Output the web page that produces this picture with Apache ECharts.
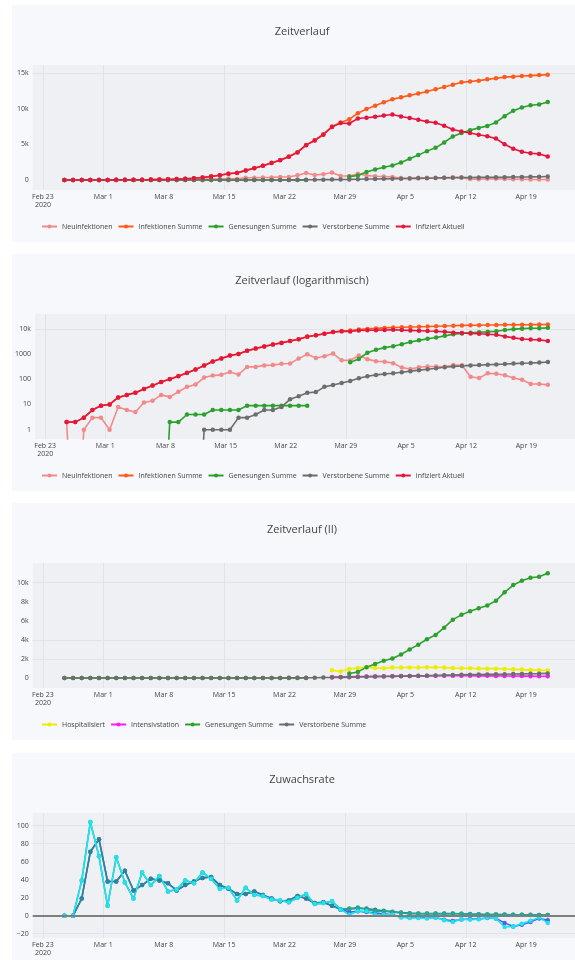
<!DOCTYPE html>
<html><head><meta charset="utf-8">
<script src="https://cdn.jsdelivr.net/npm/echarts@6/dist/echarts.min.js"></script>
<style>
html,body{margin:0;padding:0;background:#fff;width:575px;height:960px;overflow:hidden;position:relative;}
.panel{position:absolute;left:12px;width:620px;height:237px;background:#f7f8fb;}
</style></head><body>
<div id="p1" class="panel" style="top:5px"></div>
<div id="p2" class="panel" style="top:254px"></div>
<div id="p3" class="panel" style="top:503px"></div>
<div id="p4" class="panel" style="top:753px"></div>
<script>
// ---- data ----
const dates = ['2020-02-25','2020-02-26','2020-02-27','2020-02-28','2020-02-29',
'2020-03-01','2020-03-02','2020-03-03','2020-03-04','2020-03-05','2020-03-06','2020-03-07','2020-03-08','2020-03-09','2020-03-10',
'2020-03-11','2020-03-12','2020-03-13','2020-03-14','2020-03-15','2020-03-16','2020-03-17','2020-03-18','2020-03-19','2020-03-20',
'2020-03-21','2020-03-22','2020-03-23','2020-03-24','2020-03-25','2020-03-26','2020-03-27','2020-03-28','2020-03-29','2020-03-30','2020-03-31',
'2020-04-01','2020-04-02','2020-04-03','2020-04-04','2020-04-05','2020-04-06','2020-04-07','2020-04-08','2020-04-09','2020-04-10',
'2020-04-11','2020-04-12','2020-04-13','2020-04-14','2020-04-15','2020-04-16','2020-04-17','2020-04-18','2020-04-19','2020-04-20','2020-04-21'];

const neuinfektionen = [2,0,1,3,3,1,8,6,5,12, 14,24,20,32,50,62,117,140,150,195, 155,310,310,355,365,415,420,660,980,700, 820,1050,570,560,880,630,520,500,430,290, 255,300,320,320,316,370,360,125,112,172, 165,145,112,95,65,65,60];
const infektionenSumme = [2,2,3,6,9,10,19,24,29,41, 56,78,102,134,182,246,353,510,669,875, 1009,1352,1673,2015,2415,2797,3305,3910,4938,5590, 6440,7520,8080,8530,9390,9970,10450,10920,11340,11630, 11900,12150,12430,12760,13080,13380,13730,13850,13970,14150, 14300,14470,14530,14620,14670,14750,14810];
const genesungenSumme = [0,0,0,0,0,0,0,0,0,0, 0,0,2,2,4,4,4,6,6,6, 6,9,9,9,9,9,9,9,9,null, null,null,null,470,640,1130,1480,1800,2050,2470, 3000,3500,4060,4520,5280,6120,6620,7010,7310,7610, 8100,8980,9740,10200,10510,10620,10970];
const verstorbeneSumme = [0,0,0,0,0,0,0,0,0,0, 0,0,0,0,0,0,1,1,1,1, 3,3,4,6,6,8,16,21,29,31, 50,59,71,86,109,131,149,163,173,190, 210,230,250,272,300,320,340,355,365,378, 390,402,418,430,442,458,485];
const infiziertAktuell = [2,2,3,6,9,10,19,24,29,41, 56,78,100,132,178,242,348,503,662,868, 1000,1340,1660,2000,2400,2780,3280,3880,4900,5550, 6380,7450,8000,7950,8650,8760,8880,9060,9210,8940, 8710,8470,8210,8050,7620,7090,6830,6600,6360,6150, 5820,5030,4400,3970,3770,3670,3320];
const hospitalisiert = [null,null,null,null,null,null,null,null,null,null, null,null,null,null,null,null,null,null,null,null, null,null,null,null,null,null,null,null,null,null, null,810,690,950,1050,1120,1060,1030,1090,1100, 1100,1100,1120,1120,1100,1040,1030,1020,990,980, 980,950,920,880,850,820,790];
const intensivstation = [null,null,null,null,null,null,null,null,null,null, null,null,null,null,null,null,null,null,null,null, null,null,null,null,null,null,null,null,null,null, null,110,120,130,150,160,170,180,190,200, 210,220,230,235,240,240,240,235,230,225, 220,215,210,200,195,190,185];

const zuwachsAktuell = [0,0,39,104,66,11,65,37,19,48, 34,44,27,29,39,36,48,41,30,31, 17,31,23,22,18,17,15,20,24,13, 14,16,7,1,5,5,1,1,1,-2, -2.5,-2.5,-3,-2,-5,-7,-4,-4.5,-4,-2.2, -3,-12.6,-12,-9,-5.6,-2,-8];
const zuwachsSumme = [0,0,39,104,66,11,65,37,19,48, 34,44,27,29,39,36,48,41,30,31, 17,31,23,22,18,17,15,20,24,13, 14,16,7,8,9,7,5,5,4,3, 2.2,2.2,2.2,2.2,2.2,2.2,2.2,1.5,1.2,1.2, 1.2,1.1,1,0.9,0.8,0.7,0.7];
const zuwachsSummeMittel = [0,0,19,71,85,38,38,50,28,34, 41,39,36,28,34,38,42,43,34,30, 24,24,27,23,19,16,17,22,19,14, 15,11,7,7.5,8,8,6.5,5.5,4.5,3.5, 2.8,2.4,2.3,2.3,2.3,2.3,2.2,1.9,1.6,1.3, 1.2,1.2,1.1,1,0.9,0.8,0.7];
const zuwachsAktuellMittel = [0,0,19,71,85,38,38,50,28,34, 41,39,36,28,34,38,42,43,34,30, 24,24,27,23,19,16,17,22,19,14, 15,11,7,4,5,4,3,2,1,-1.5, -2,-2,-2.2,-2,-4.5,-5.8,-4.3,-3.7,-3.7,-2.6, -3,-8,-12,-10,-7,-3,-5];

const xTickDates = ['2020-02-23','2020-03-01','2020-03-08','2020-03-15','2020-03-22','2020-03-29','2020-04-05','2020-04-12','2020-04-19'];
const xTickLabels = ['Feb 23\n2020','Mar 1','Mar 8','Mar 15','Mar 22','Mar 29','Apr 5','Apr 12','Apr 19'];
const xGridDates = ['2020-02-23','2020-03-01','2020-03-15','2020-03-29','2020-04-12'];

const yTicks1 = [0,5000,10000,15000];
const yTicks2 = [1,10,100,1000,10000];
const yTicks3 = [0,2000,4000,6000,8000,10000];
const yTicks4 = [-20,0,20,40,60,80,100];
// gridlines visible in the reference
const yGrid1 = [15000];
const yGrid2 = [10000];
const yGrid3 = [2000,4000,10000];
const yGrid4 = [-20,80,100];

// ---- helpers ----
const DAY = 86400000;
function ts(s){ const p = s.split('-').map(Number); return Date.UTC(p[0], p[1]-1, p[2]); }
const t0 = ts('2020-02-23');
const xMin = t0 - 1.18*DAY, xMax = t0 + 62.18*DAY;
function pairs(arr, log){ return arr.map((v,i)=>[ts(dates[i]) + DAY/2, v==null ? null : (log ? (v>0 ? v : 1e-6) : v)]); }

const FONT = '"Open Sans", "Liberation Sans", sans-serif';
const TXT = '#444';
const GRIDC = '#e1e3e8';
const PLOTBG = '#eef0f4';
const xTickTs = xTickDates.map(ts);

function xAxis(){
  return {
    type:'value', min:xMin, max:xMax, scale:true,
    axisLine:{show:false},
    axisTick:{show:false, customValues: xGridDates.map(ts)},
    splitLine:{show:true, lineStyle:{color:GRIDC, width:1}},
    axisLabel:{customValues: xTickTs, fontSize:7, color:TXT, fontFamily:FONT, lineHeight:8, margin:3,
      formatter:(v)=>{ const k = xTickTs.indexOf(v); return k>=0 ? xTickLabels[k] : ''; },
      hideOverlap:false}
  };
}
function yAxis(type, min, max, ticks, grid, fmt){
  return {
    type, min, max, logBase:10,
    axisLine:{show:false},
    axisTick:{show:false, customValues: grid},
    splitLine:{show:true, lineStyle:{color:GRIDC, width:1}},
    axisLabel:{customValues: ticks, fontSize:7, color:TXT, fontFamily:FONT, margin:4, formatter:fmt}
  };
}
function ser(name, arr, color, log, extra){
  return Object.assign({
    name, type:'line', data:pairs(arr, log), symbol:'circle', symbolSize:4.5, showSymbol:true,
    connectNulls:false, clip:true, color,
    lineStyle:{width:1.6, color}, itemStyle:{color}, emphasis:{disabled:true}, animation:false
  }, extra||{});
}
function base(title, legendData){
  return {
    animation:false,
    textStyle:{fontFamily:FONT},
    title:{text:title, left:290, top:21, padding:0, textAlign:'center',
      textStyle:{fontSize:11, fontWeight:'normal', color:TXT, fontFamily:FONT}},
    grid:{left:20.7, top:60, width:546.8, height:125, show:true, backgroundColor:PLOTBG, borderWidth:0, containLabel:false},
    legend: legendData ? {data:legendData, left:29, top:218, padding:0, itemWidth:15, itemHeight:5, itemGap:5,
      textStyle:{fontSize:7, color:TXT, fontFamily:FONT}, selectedMode:false} : {show:false},
    xAxis: xAxis()
  };
}
const fmtK = v => v===0 ? '0' : (v/1000)+'k';
const fmtLog = v => v>=10000 ? (Math.round(v)/1000)+'k' : String(Math.round(v));
const fmtPct = v => v<0 ? '\u2212'+(-v) : String(v);

const C = {pink:'#f28a8a', orange:'#ff5a1a', green:'#2ca02c', gray:'#6d6d6d', red:'#e3173e',
  yellow:'#eded00', magenta:'#ff1aff', cyan:'#1ee3f0', dteal:'#2a8595', blue:'#4a64e6', tgreen:'#22a894'};

const names1 = ['Neuinfektionen','Infektionen Summe','Genesungen Summe','Verstorbene Summe','Infiziert Aktuell'];

function draw(id, opt){
  try { echarts.init(document.getElementById(id)).setOption(opt); }
  catch(e){ console.error(id, e && e.stack); }
}

// Panel 1
const o1 = base('Zeitverlauf', names1);
o1.yAxis = yAxis('value', -1406, 16170, yTicks1, yGrid1, fmtK);
o1.series = [
  ser(names1[0], neuinfektionen, C.pink, false),
  ser(names1[1], infektionenSumme, C.orange, false),
  ser(names1[2], genesungenSumme, C.green, false),
  ser(names1[3], verstorbeneSumme, C.gray, false),
  ser(names1[4], infiziertAktuell, C.red, false)
];
draw('p1', o1);

// Panel 2 (log)
const o2 = base('Zeitverlauf (logarithmisch)', names1);
o2.yAxis = yAxis('log', Math.pow(10,-0.37), Math.pow(10,4.59), yTicks2, yGrid2, fmtLog);
o2.series = [
  ser(names1[0], neuinfektionen, C.pink, true),
  ser(names1[1], infektionenSumme, C.orange, true),
  ser(names1[2], genesungenSumme, C.green, true),
  ser(names1[3], verstorbeneSumme, C.gray, true),
  ser(names1[4], infiziertAktuell, C.red, true)
];
draw('p2', o2);

// Panel 3
const names3 = ['Hospitalisiert','Intensivstation','Genesungen Summe','Verstorbene Summe'];
const o3 = base('Zeitverlauf (II)', names3);
o3.yAxis = yAxis('value', -1046, 12056, yTicks3, yGrid3, fmtK);
o3.series = [
  ser(names3[0], hospitalisiert, C.yellow, false),
  ser(names3[1], intensivstation, C.magenta, false),
  ser(names3[2], genesungenSumme, C.green, false),
  ser(names3[3], verstorbeneSumme, C.gray, false)
];
draw('p3', o3);

// Panel 4
const names4 = ['Zuwachsrate Infiziert Aktuell (Mittel)','Zuwachsrate Infektionen Summe (Mittel)','Zuwachsrate Infektionen Summe','Zuwachsrate Infiziert Aktuell'];
const o4 = base('Zuwachsrate', null);
o4.yAxis = yAxis('value', -24.8, 114.1, yTicks4, yGrid4, fmtPct);
o4.series = [
  ser(names4[0], zuwachsAktuellMittel, C.blue, false, {markLine:{silent:true, symbol:'none', label:{show:false}, animation:false,
     lineStyle:{color:'#7f7f7f', width:2, type:'solid'}, data:[{yAxis:0}]}}),
  ser(names4[1], zuwachsSummeMittel, C.dteal, false),
  ser(names4[2], zuwachsSumme, C.tgreen, false),
  ser(names4[3], zuwachsAktuell, C.cyan, false)
];
draw('p4', o4);
</script>
</body></html>
